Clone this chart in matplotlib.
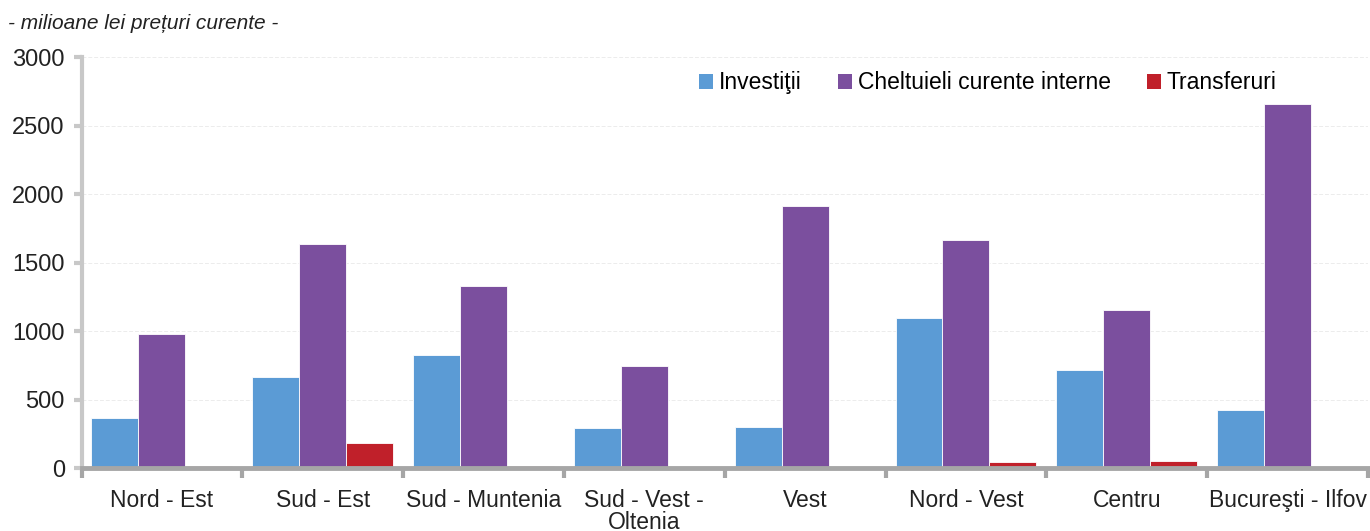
import numpy as np
import matplotlib.pyplot as plt
from matplotlib.patches import Patch

plt.rcParams['font.family'] = ['Liberation Sans', 'DejaVu Sans']

regiuni = ['Nord - Est', 'Sud - Est', 'Sud - Muntenia', 'Sud - Vest -\nOltenia',
           'Vest', 'Nord - Vest', 'Centru', 'Bucureşti - Ilfov']
investitii = [362, 668, 828, 295, 302, 1092, 712, 425]
cheltuieli = [980, 1635, 1330, 748, 1910, 1665, 1155, 2655]
transferuri = [14, 185, 12, 3, 2, 42, 52, 0]

series = [('Investiţii', investitii, '#5B9BD5'),
          ('Cheltuieli curente interne', cheltuieli, '#7B4F9E'),
          ('Transferuri', transferuri, '#C0202A')]

fig = plt.figure(figsize=(13.7, 5.31), dpi=100)
ax = fig.add_axes([0.0595, 0.1186, 0.939, 0.774])

x = np.arange(len(regiuni))
w = 0.292
for i, (name, vals, col) in enumerate(series):
    ax.bar(x + (i - 1) * w, vals, width=w, color=col, edgecolor='white',
           linewidth=0.6, zorder=3)

ax.set_xlim(-0.5, len(regiuni) - 0.5)
ax.set_ylim(0, 3000)
ax.set_yticks(range(0, 3001, 500))
ax.yaxis.grid(True, color='#ececec', linestyle=(0, (4, 2)), linewidth=0.7, zorder=0)

ax.set_xticks(x)
ax.set_xticklabels(regiuni, fontsize=16.5, color='#222222', linespacing=0.95)
ax.set_xticks(np.arange(-0.5, len(regiuni)), minor=True)
ax.tick_params(axis='x', which='major', length=0, pad=15)
ax.tick_params(axis='x', which='minor', length=7, width=3, color='#a6a6a6', direction='out')
ax.tick_params(axis='y', length=6, width=3, color='#c8c8c8', direction='out',
               labelsize=17, labelcolor='#222222', pad=6)

for s in ['top', 'right']:
    ax.spines[s].set_visible(False)
ax.spines['left'].set_color('#c8c8c8')
ax.spines['left'].set_linewidth(3)
ax.spines['bottom'].set_color('#a6a6a6')
ax.spines['bottom'].set_linewidth(3.5)
ax.spines['bottom'].set_zorder(4)

handles = [Patch(facecolor=c, label=n) for n, _, c in series]
ax.legend(handles=handles, loc='upper right', bbox_to_anchor=(0.945, 1.015), ncol=3,
          frameon=False, fontsize=16.5, handlelength=0.6, handleheight=0.6,
          handletextpad=0.25, columnspacing=1.6)

fig.text(0.006, 0.955, '- milioane lei prețuri curente -', fontsize=15,
         style='italic', color='#222222', va='center')

fig.savefig('out.png', dpi=100)
